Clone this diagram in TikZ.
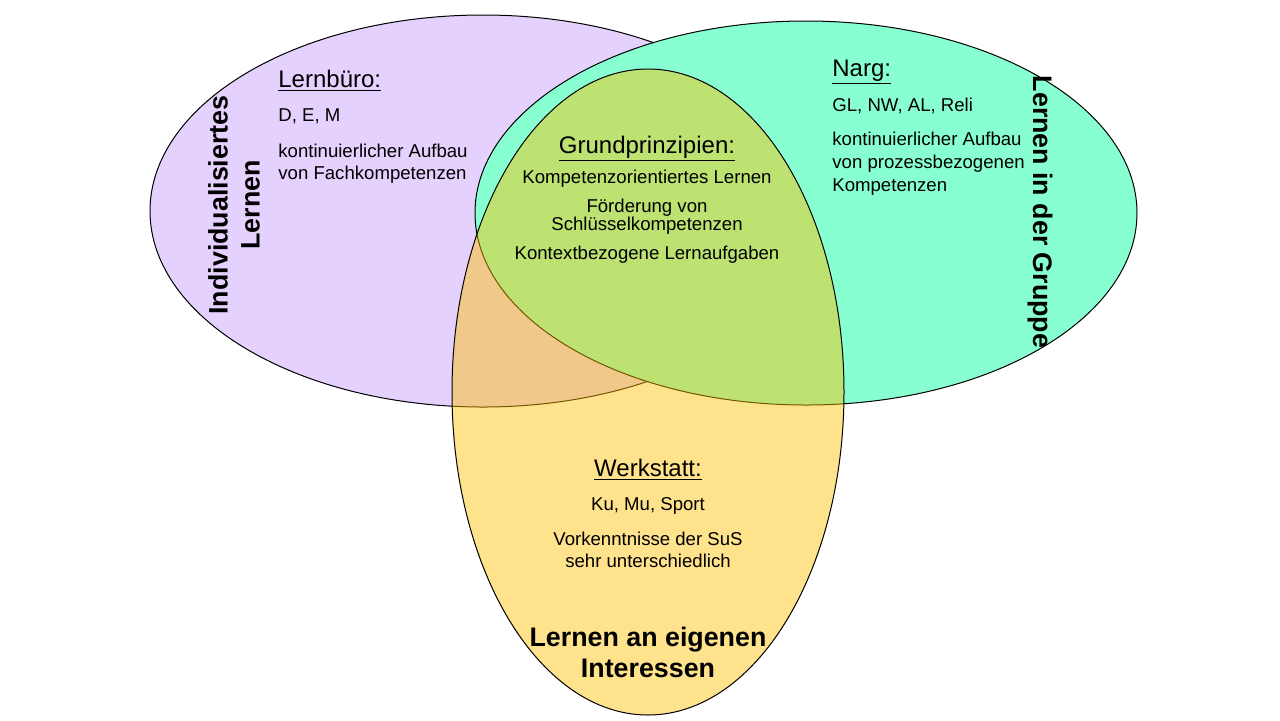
\documentclass[tikz,border=0pt]{standalone}
\usepackage{fontspec}
\setmainfont{Liberation Sans}
\usepackage{tikz}
\usetikzlibrary{positioning}
\definecolor{mengelila}{HTML}{E5D1FD}
\definecolor{mengegruen}{HTML}{88FFD0}
\definecolor{mengegelb}{HTML}{FFC000}

\begin{document}
\begin{tikzpicture}[x=0.5pt,y=-0.5pt,
  menge/.style={draw=black, line width=0.5pt},
  kopf/.style={font=\fontsize{12}{14}\selectfont, inner sep=0pt},
  txt/.style={font=\fontsize{9.3}{11}\selectfont, inner sep=0pt},
  eng/.style={font=\fontsize{9.3}{9}\selectfont, inner sep=0pt},
  gross/.style={font=\fontsize{13.4}{16}\selectfont\bfseries, inner sep=0pt, align=center}]
\fill[white](0,0) rectangle (1280,720);
\useasboundingbox (0,0) rectangle (1280,720);

% die drei Mengen
\foreach \farbe/\mx/\my/\rx/\ry/\deck in {mengelila/483/211/333/196/1,
  mengegruen/806/213/331/192/1, mengegelb/648/392/196/323/0.45}{
  \draw[menge, fill=\farbe, fill opacity=\deck](\mx,\my) ellipse [x radius=\rx, y radius=\ry];}

% Lernbuero
\node[kopf, anchor=base west](lbkopf) at (278,87){\underline{Lernbüro:}};
\node[txt, below=8.5pt of lbkopf.south west, anchor=north west](lbfach){D, E, M};
\node[txt, align=left, below=9.5pt of lbfach.south west, anchor=north west](lbtext){kontinuierlicher Aufbau\\von Fachkompetenzen};
\node[gross, rotate=90](lbtitel) at (234,205){Individualisiertes\\Lernen};

% Narg
\node[kopf, anchor=base west](nakopf) at (832,76){\underline{Narg:}};
\node[txt, below=6pt of nakopf.south west, anchor=north west](nafach){GL, NW, AL, Reli};
\node[txt, align=left, font=\fontsize{9.3}{11.5}\selectfont, below=9pt of nafach.south west, anchor=north west](natext){kontinuierlicher Aufbau\\von prozessbezogenen\\Kompetenzen};
\node[gross, rotate=-90](natitel) at (1040,212){Lernen in der Gruppe};

% Grundprinzipien
\node[kopf, anchor=base](grkopf) at (647,153){\underline{Grundprinzipien:}};
\node[txt, below=3.5pt of grkopf](grkomp){Kompetenzorientiertes Lernen};
\node[eng, align=center, below=5.5pt of grkomp](grschl){Förderung von\\Schlüsselkompetenzen};
\node[txt, below=5.5pt of grschl](grkont){Kontextbezogene Lernaufgaben};

% Werkstatt
\node[kopf, anchor=base](wekopf) at (648,476){\underline{Werkstatt:}};
\node[txt, below=8.3pt of wekopf](wefach){Ku, Mu, Sport};
\node[txt, align=center, below=8.2pt of wefach](wetext){Vorkenntnisse der SuS\\sehr unterschiedlich};
\node[gross, font=\fontsize{13.4}{15.5}\selectfont\bfseries](wetitel) at (648,652){Lernen an eigenen\\Interessen};

\end{tikzpicture}
\end{document}
